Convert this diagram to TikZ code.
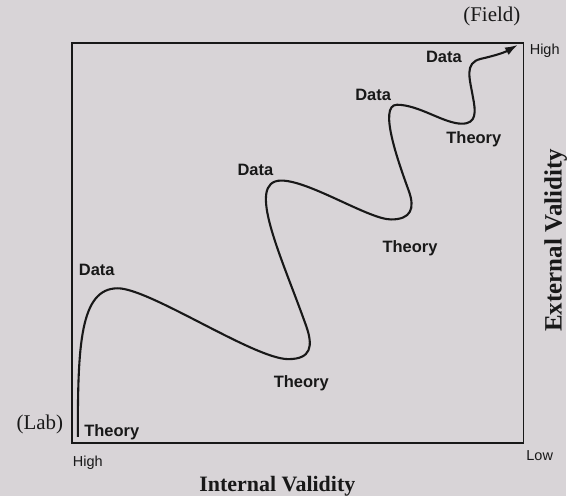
\documentclass[tikz,border=0pt]{standalone}
\usepackage{fontspec}
\setmainfont{Liberation Serif}
\setsansfont{Liberation Sans}
\usetikzlibrary{arrows.meta}
\definecolor{paperGray}{RGB}{216,212,215}
\definecolor{inkBlack}{RGB}{24,24,24}

\begin{document}
\begin{tikzpicture}[x=1pt,y=1pt,
    stage/.style={font=\sffamily\bfseries\fontsize{16.5}{17}\selectfont,text=inkBlack,inner sep=0pt},
    tickl/.style={font=\sffamily\fontsize{14.5}{15}\selectfont,text=inkBlack,inner sep=0pt},
    pole/.style={font=\fontsize{21}{21}\selectfont,text=inkBlack,inner sep=0pt},
    axisl/.style={font=\bfseries\fontsize{22}{22}\selectfont,text=inkBlack,inner sep=0pt},
    wave/.style={-{Latex[length=4.5mm,width=3mm]},line width=2.1pt,draw=inkBlack}
  ]
    \fill[paperGray] (0,0) rectangle (567,497);
    % frame
    \coordinate (sw) at (72,53);
    \coordinate (ne) at (525,454);
    \draw[inkBlack,line width=1.4pt] (sw) rectangle (ne);
    % stage labels
    \node[stage] (t1) at (112,64) {Theory};
    \node[stage] (d1) at (97,226) {Data};
    \node[stage] (t2) at (302,113) {Theory};
    \node[stage] (d2) at (256,327) {Data};
    \node[stage] (t3) at (411,248) {Theory};
    \node[stage] (d3) at (374,402) {Data};
    \node[stage] (t4) at (475,357) {Theory};
    \node[stage] (d4) at (445,440) {Data};
    % axis ends
    \node[pole] (lab) at (40,72) {(Lab)};
    \node[pole] (field) at (493,480) {(Field)};
    \node[tickl] (hix) at (88,33) {High};
    \node[tickl] (lox) at (541,40) {Low};
    \node[tickl] (hiy) at (546,446) {High};
    \node[axisl] (intv) at (278,10) {Internal Validity};
    \node[axisl,font=\bfseries\fontsize{25}{25}\selectfont,rotate=90] (extv) at (557,256) {External Validity};
    % research cycle
    \coordinate (start) at (78,59);
    \coordinate (tip) at (519,452);
    \draw[wave] (start) .. controls (78,150) and (80,208) .. (118,208)
      .. controls (150,208) and (255,137) .. (289,137)
      .. controls (312,137) and (314,150) .. (307,170)
      .. controls (283,238) and (245,316) .. (282,316)
      .. controls (310,316) and (370,277) .. (392,277)
      .. controls (412,277) and (416,288) .. (410,305)
      .. controls (401,330) and (378,392) .. (398,392)
      .. controls (420,392) and (445,373) .. (463,373)
      .. controls (478,373) and (477,385) .. (474,400)
      .. controls (471,418) and (465,434) .. (482,438)
      .. controls (495,441) and (505,444) .. (tip);
\end{tikzpicture}
\end{document}
